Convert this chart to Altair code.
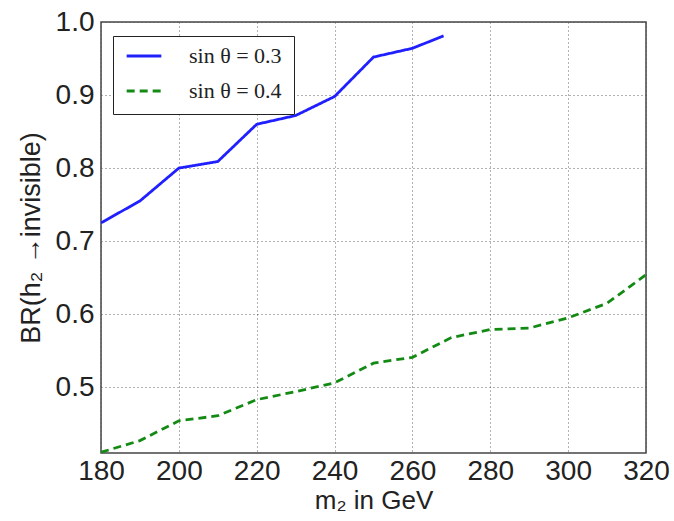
import altair as alt
import pandas as pd

# ---- data ----
m2_a = [180, 190, 200, 210, 220, 230, 240, 250, 260, 268]
br_a = [0.725, 0.755, 0.800, 0.809, 0.860, 0.872, 0.898, 0.952, 0.964, 0.981]

m2_b = [180, 190, 200, 210, 220, 230, 240, 250, 260, 270, 280, 290, 300, 310, 320]
br_b = [0.411, 0.427, 0.454, 0.461, 0.483, 0.494, 0.506, 0.533, 0.541, 0.568,
        0.579, 0.581, 0.595, 0.615, 0.654]

series = ["sin θ = 0.3", "sin θ = 0.4"]
colors = ["#2020ff", "#138a13"]
x_ticks = [180, 200, 220, 240, 260, 280, 300, 320]
y_ticks = [0.5, 0.6, 0.7, 0.8, 0.9, 1.0]

df = pd.concat([
    pd.DataFrame({"m2": m2_a, "br": br_a, "series": series[0]}),
    pd.DataFrame({"m2": m2_b, "br": br_b, "series": series[1]}),
], ignore_index=True)

sans = "Liberation Sans"

chart = alt.Chart(df).mark_line(strokeWidth=2.8, clip=True).encode(
    x=alt.X("m2:Q",
            scale=alt.Scale(domain=[180, 320], nice=False, zero=False),
            axis=alt.Axis(values=x_ticks, title="m₂ in GeV", format="d",
                          labelFontSize=28, titleFontSize=26, labelPadding=4,
                          titlePadding=2, labelFlush=False)),
    y=alt.Y("br:Q",
            scale=alt.Scale(domain=[0.41, 1.0], nice=False, zero=False),
            axis=alt.Axis(values=y_ticks, title="BR(h₂  →invisible)", format=".1f",
                          labelFontSize=28, titleFontSize=27, labelPadding=7,
                          titlePadding=10, labelFlush=False)),
    color=alt.Color("series:N",
                    scale=alt.Scale(domain=series, range=colors),
                    legend=alt.Legend(title=None, orient="none", legendX=12, legendY=14,
                                      symbolType="stroke", symbolSize=1200,
                                      symbolStrokeWidth=2.8, clipHeight=16,
                                      labelFont="Liberation Serif", labelFontSize=22,
                                      labelColor="#222",
                                      labelOffset=26, rowPadding=13,
                                      padding=12, strokeColor="#222",
                                      fillColor="white", cornerRadius=0)),
    strokeDash=alt.StrokeDash("series:N",
                              scale=alt.Scale(domain=series, range=[[1, 0], [8, 5]]),
                              legend=None),
).properties(
    width=545, height=431,
    autosize=alt.AutoSizeParams(type="none"),
    padding={"left": 101, "top": 22, "right": 28, "bottom": 68},
).configure_axis(
    labelFont=sans, titleFont=sans, labelColor="#222", titleColor="#222",
    titleFontWeight="normal",
    grid=True, gridColor="#555", gridDash=[1, 3], gridWidth=1, gridOpacity=0.9,
    domain=False, ticks=False,
).configure_view(
    stroke="#444", strokeWidth=1.5,
)

chart.save("out.html", embed_options={"renderer": "svg", "actions": False})
